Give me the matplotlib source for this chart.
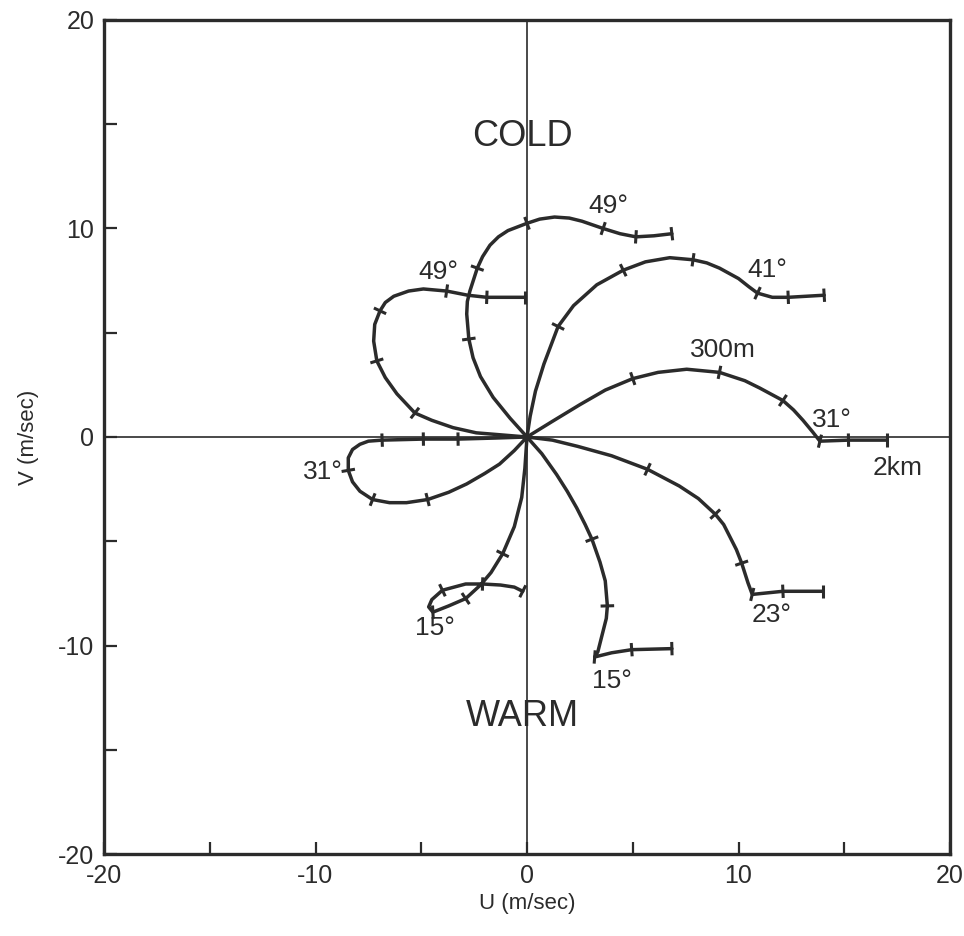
import matplotlib
matplotlib.use('Agg')
import matplotlib.pyplot as plt
import numpy as np

plt.rcParams['font.family'] = ['Liberation Sans', 'DejaVu Sans']
plt.rcParams['axes.unicode_minus'] = False

ink = '#2b2b2b'

# hodographs, u and v in m/sec
a_u = [0, -0.8, -1.6, -2.2, -2.55, -2.75, -2.85, -2.82, -2.7, -2.35, -2.1, -1.75, -1.35, -0.9, 0, 0.6, 1.3, 2.0, 2.6, 3.6, 4.4, 5.15, 6.0, 6.85]
a_v = [0, 0.9, 1.9, 2.9, 3.8, 4.7, 5.9, 6.5, 7.0, 8.1, 8.65, 9.2, 9.6, 9.9, 10.25, 10.45, 10.55, 10.5, 10.35, 10.0, 9.75, 9.6, 9.65, 9.75]
a_tick_u = [-2.75, -2.35, 0, 3.6, 5.15, 6.85]
a_tick_v = [4.7, 8.1, 10.25, 10.0, 9.6, 9.75]

b_u = [0, -1.2, -2.4, -3.5, -4.5, -5.3, -6.15, -6.7, -7.1, -7.25, -7.2, -6.95, -6.7, -6.3, -5.6, -4.9, -3.8, -2.8, -1.9, -0.1]
b_v = [0, 0.1, 0.2, 0.45, 0.8, 1.15, 2.07, 2.85, 3.65, 4.6, 5.4, 6.05, 6.45, 6.75, 7.0, 7.1, 7.0, 6.8, 6.7, 6.7]
b_tick_u = [-5.3, -7.1, -6.95, -3.8, -1.9, -0.1]
b_tick_v = [1.15, 3.65, 6.05, 7.0, 6.7, 6.7]

c_u = [0, 0.15, 0.4, 0.8, 1.47, 2.2, 3.3, 4.55, 5.6, 6.75, 7.85, 8.5, 9.1, 10.0, 10.5, 10.9, 11.6, 12.35, 14.05]
c_v = [0, 1.0, 2.2, 3.5, 5.3, 6.3, 7.3, 8.0, 8.4, 8.6, 8.5, 8.35, 8.1, 7.6, 7.2, 6.9, 6.7, 6.7, 6.8]
c_tick_u = [1.47, 4.55, 7.85, 10.9, 12.35, 14.05]
c_tick_v = [5.3, 8.0, 8.5, 6.9, 6.7, 6.8]

d_u = [0, 1.2, 2.5, 3.7, 5.0, 6.2, 7.55, 9.1, 10.3, 11.0, 12.1, 12.6, 13.05, 13.5, 13.85, 15.2, 17.0]
d_v = [0, 0.75, 1.55, 2.25, 2.8, 3.1, 3.25, 3.1, 2.7, 2.35, 1.75, 1.3, 0.8, 0.25, -0.2, -0.15, -0.15]
d_tick_u = [5.0, 9.1, 12.1, 13.85, 15.2, 17.0]
d_tick_v = [2.8, 3.1, 1.75, -0.2, -0.15, -0.15]

e_u = [0, -1.5, -3.26, -4.9, -6.85, -7.5, -7.9, -8.25, -8.45, -8.45, -8.25, -7.9, -7.3, -6.5, -5.7, -4.7, -3.7, -2.85, -2.0, -1.3, -0.6, 0]
e_v = [0, -0.05, -0.1, -0.1, -0.15, -0.2, -0.35, -0.6, -1.0, -1.6, -2.15, -2.6, -3.0, -3.15, -3.15, -3.0, -2.65, -2.25, -1.75, -1.3, -0.65, 0]
e_tick_u = [-3.26, -4.9, -6.85, -8.45, -7.3, -4.7]
e_tick_v = [-0.1, -0.1, -0.15, -1.6, -3.0, -3.0]

f_u = [0, -0.1, -0.25, -0.6, -1.15, -1.7, -2.2, -2.9, -3.7, -4.45, -4.65, -4.5, -4.0, -2.9, -2.1, -1.25, -0.6, -0.2]
f_v = [0, -1.5, -2.9, -4.3, -5.6, -6.5, -7.1, -7.75, -8.1, -8.4, -8.15, -7.8, -7.35, -7.05, -7.05, -7.1, -7.2, -7.4]
f_tick_u = [-1.15, -2.9, -4.45, -4.0, -2.1, -0.2]
f_tick_v = [-5.6, -7.75, -8.4, -7.35, -7.05, -7.4]

g_u = [0, 0.7, 1.4, 1.9, 2.35, 2.75, 3.07, 3.45, 3.7, 3.8, 3.75, 3.6, 3.35, 3.2, 4.0, 4.95, 6.85]
g_v = [0, -0.8, -1.8, -2.6, -3.4, -4.2, -4.9, -6.0, -6.9, -8.1, -8.7, -9.3, -10.3, -10.55, -10.35, -10.2, -10.15]
g_tick_u = [3.07, 3.8, 3.2, 4.95, 6.85]
g_tick_v = [-4.9, -8.1, -10.55, -10.2, -10.15]

h_u = [0, 1.2, 2.4, 4.0, 5.7, 7.2, 8.1, 8.9, 9.3, 9.6, 9.9, 10.15, 10.45, 10.65, 12.1, 14.0]
h_v = [0, -0.15, -0.45, -0.9, -1.55, -2.35, -2.95, -3.7, -4.2, -4.8, -5.4, -6.05, -7.0, -7.55, -7.4, -7.4]
h_tick_u = [5.7, 8.9, 10.15, 10.65, 12.1, 14.0]
h_tick_v = [-1.55, -3.7, -6.05, -7.55, -7.4, -7.4]

# annotations on the curves
note_text = ['49°', '49°', '41°', '300m', '31°', '2km', '31°', '15°', '15°', '23°']
note_u = [3.83, -4.2, 11.35, 9.27, 14.42, 17.54, -9.65, -4.35, 4.02, 11.58]
note_v = [11.06, 7.93, 8.03, 4.18, 0.82, -1.49, -1.68, -9.18, -11.68, -8.56]

curves = [
    (a_u, a_v, a_tick_u, a_tick_v),
    (b_u, b_v, b_tick_u, b_tick_v),
    (c_u, c_v, c_tick_u, c_tick_v),
    (d_u, d_v, d_tick_u, d_tick_v),
    (e_u, e_v, e_tick_u, e_tick_v),
    (f_u, f_v, f_tick_u, f_tick_v),
    (g_u, g_v, g_tick_u, g_tick_v),
    (h_u, h_v, h_tick_u, h_tick_v),
]


def draw_ticks(ax, cu, cv, tu, tv, half=0.32):
    cu = np.asarray(cu, float)
    cv = np.asarray(cv, float)
    for x, y in zip(tu, tv):
        i = int(np.argmin((cu - x) ** 2 + (cv - y) ** 2))
        j0, j1 = max(i - 1, 0), min(i + 1, len(cu) - 1)
        dx, dy = cu[j1] - cu[j0], cv[j1] - cv[j0]
        n = np.hypot(dx, dy)
        px, py = -dy / n, dx / n
        ax.plot([x - half * px, x + half * px], [y - half * py, y + half * py],
                color=ink, lw=2.2, solid_capstyle='butt')


fig = plt.figure(figsize=(9.64, 9.36), dpi=100)
ax = fig.add_axes([104 / 964, 1 - 854 / 936, 846 / 964, 834 / 936])

ax.axhline(0, color=ink, lw=1.2)
ax.axvline(0, color=ink, lw=1.2)

for cu, cv, tu, tv in curves:
    ax.plot(cu, cv, color=ink, lw=2.5, solid_joinstyle='round', solid_capstyle='round')
    draw_ticks(ax, cu, cv, tu, tv)

for t, x, y in zip(note_text, note_u, note_v):
    ax.text(x, y, t, fontsize=19, color=ink, ha='center', va='center')

ax.text(-0.2, 14.4, 'COLD', fontsize=26, color=ink, ha='center', va='center')
ax.text(-0.2, -13.4, 'WARM', fontsize=26, color=ink, ha='center', va='center')

ax.set_xlim(-20, 20)
ax.set_ylim(-20, 20)
ax.set_xticks([-20, -10, 0, 10, 20])
ax.set_yticks([-20, -10, 0, 10, 20])
ax.set_xticks([-15, -5, 5, 15], minor=True)
ax.set_yticks([-15, -5, 5, 15], minor=True)
ax.tick_params(which='both', direction='in', length=9, width=1.6, color=ink,
               labelsize=18, labelcolor=ink, pad=7)
for s in ax.spines.values():
    s.set_linewidth(2.4)
    s.set_color(ink)

ax.set_xlabel('U (m/sec)', fontsize=16, color=ink, labelpad=4)
ax.set_ylabel('V (m/sec)', fontsize=16, color=ink, labelpad=14)

fig.savefig('out.png', dpi=100)
